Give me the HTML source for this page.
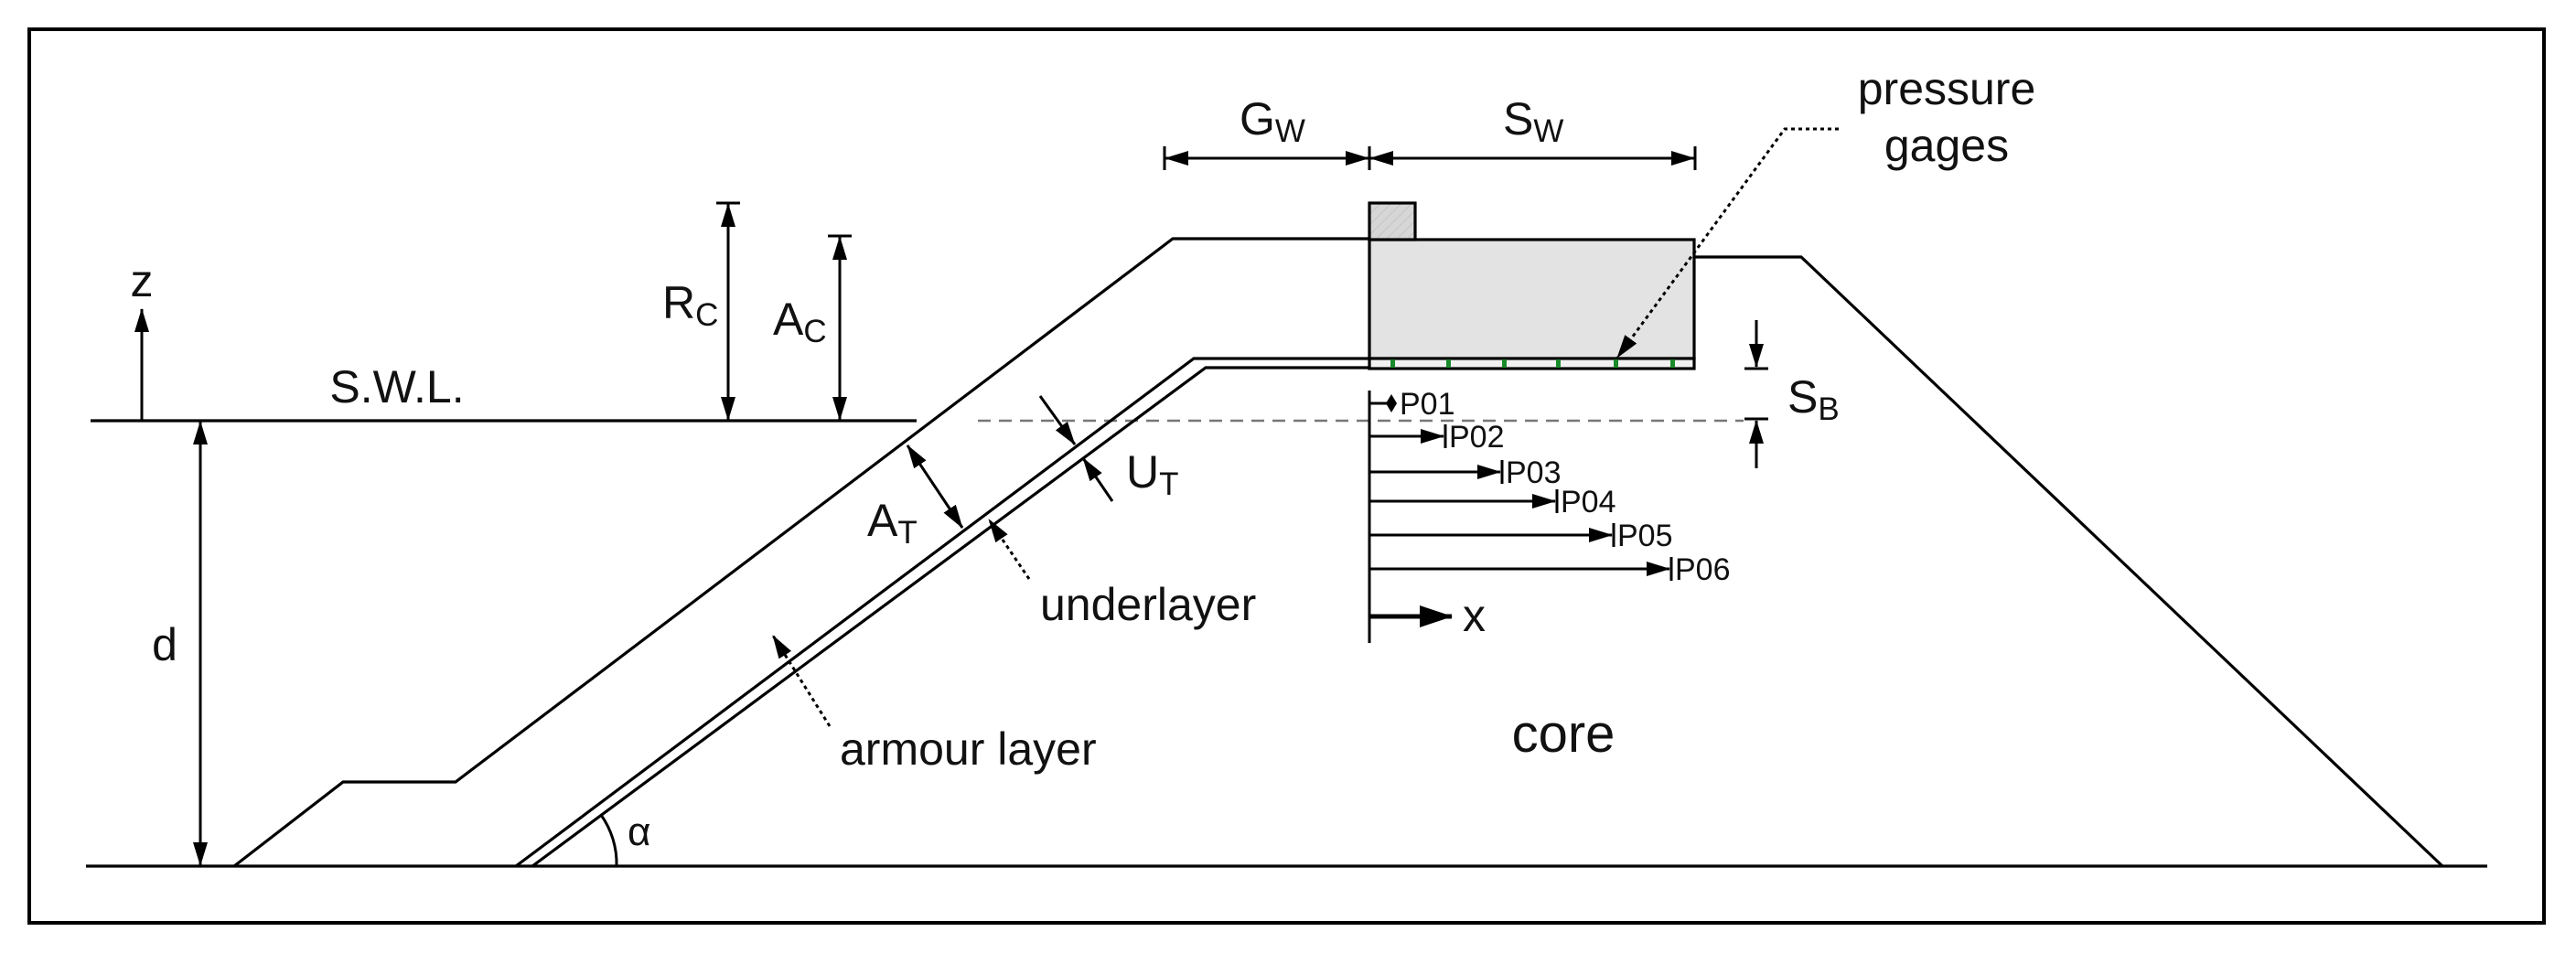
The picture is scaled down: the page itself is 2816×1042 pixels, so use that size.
<!DOCTYPE html>
<html><head><meta charset="utf-8"><style>
html,body{margin:0;padding:0;background:#fff;}
svg{display:block;}
text{font-family:"Liberation Sans",sans-serif;fill:#111;}
</style></head><body>
<svg width="2816" height="1042" viewBox="0 0 2816 1042" xmlns="http://www.w3.org/2000/svg">
<defs>
<marker id="a" markerWidth="26" markerHeight="16" refX="25" refY="8" orient="auto" markerUnits="userSpaceOnUse">
<path d="M0,0 L26,8 L0,16 Z" fill="#000"/></marker>
<marker id="as" markerWidth="26" markerHeight="16" refX="25" refY="8" orient="auto-start-reverse" markerUnits="userSpaceOnUse">
<path d="M0,0 L26,8 L0,16 Z" fill="#000"/></marker>
<marker id="ab" markerWidth="36" markerHeight="24" refX="35" refY="12" orient="auto" markerUnits="userSpaceOnUse">
<path d="M0,0 L36,12 L0,24 Z" fill="#000"/></marker>
<pattern id="h" width="8" height="8" patternUnits="userSpaceOnUse" patternTransform="rotate(45)">
<rect width="8" height="8" fill="#d6d6d6"/><line x1="0" y1="0" x2="0" y2="8" stroke="#c4c4c4" stroke-width="2"/></pattern>
</defs>
<g stroke="#000" stroke-width="3.2" fill="none">
<rect x="32" y="32" width="2749" height="977" stroke-width="4"/>
<line x1="99" y1="460" x2="1002" y2="460"/>
<line x1="94" y1="947" x2="2719" y2="947"/>
<line x1="1069" y1="460" x2="1906" y2="460" stroke="#777" stroke-width="2.5" stroke-dasharray="14 9"/>
<polyline points="256,947 375,855 498,855 1282,261 1497,261"/>
<polyline points="564,947 1305,392 1497,392"/>
<polyline points="582,947 1318,402 1497,402"/>
<polyline points="1852,281 1969,281 2670,947"/>
<rect x="1497" y="262" width="355" height="130" fill="#e3e3e3"/>
<rect x="1497" y="392" width="355" height="11" fill="#f2f2f2"/>
<rect x="1497" y="222" width="50" height="40" fill="url(#h)"/>
</g>
<g fill="#1a8a2a">
<rect x="1520" y="393" width="5" height="9"/><rect x="1581" y="393" width="5" height="9"/>
<rect x="1642" y="393" width="5" height="9"/><rect x="1701" y="393" width="5" height="9"/>
<rect x="1764" y="393" width="5" height="9"/><rect x="1826" y="393" width="5" height="9"/>
</g>
<g stroke="#000" stroke-width="3" fill="none">
<line x1="155" y1="460" x2="155" y2="338" marker-end="url(#a)"/>
<line x1="219" y1="461" x2="219" y2="946" marker-start="url(#as)" marker-end="url(#a)"/>
<line x1="783" y1="222" x2="809" y2="222"/>
<line x1="796" y1="223" x2="796" y2="459" marker-start="url(#as)" marker-end="url(#a)"/>
<line x1="905" y1="258" x2="931" y2="258"/>
<line x1="918" y1="259" x2="918" y2="459" marker-start="url(#as)" marker-end="url(#a)"/>
<line x1="992" y1="487" x2="1052" y2="577" marker-start="url(#as)" marker-end="url(#a)"/>
<line x1="1137" y1="433" x2="1175" y2="486" marker-end="url(#a)"/>
<line x1="1216" y1="548" x2="1184" y2="501" marker-end="url(#a)"/>
<line x1="1125" y1="633" x2="1081" y2="568" stroke-dasharray="4 4" marker-end="url(#a)"/>
<line x1="907" y1="794" x2="845" y2="695" stroke-dasharray="4 4" marker-end="url(#a)"/>
<polyline points="2010,141 1951,141 1768,391" stroke-dasharray="4 4" marker-end="url(#a)"/>
<path d="M 657,891 A 92 92 0 0 1 674,947"/>
<line x1="1273" y1="160" x2="1273" y2="186"/>
<line x1="1497" y1="160" x2="1497" y2="186"/>
<line x1="1853" y1="160" x2="1853" y2="186"/>
<line x1="1274" y1="173" x2="1496" y2="173" marker-start="url(#as)" marker-end="url(#a)"/>
<line x1="1498" y1="173" x2="1852" y2="173" marker-start="url(#as)" marker-end="url(#a)"/>
<line x1="1920" y1="350" x2="1920" y2="401" marker-end="url(#a)"/>
<line x1="1907" y1="403" x2="1933" y2="403"/>
<line x1="1907" y1="458" x2="1933" y2="458"/>
<line x1="1920" y1="512" x2="1920" y2="460" marker-end="url(#a)"/>
<line x1="1497" y1="427" x2="1497" y2="703"/>
<line x1="1497" y1="441" x2="1518" y2="441"/>
<line x1="1497" y1="477" x2="1578" y2="477" marker-end="url(#a)"/>
<line x1="1497" y1="516" x2="1640" y2="516" marker-end="url(#a)"/>
<line x1="1497" y1="548" x2="1700" y2="548" marker-end="url(#a)"/>
<line x1="1497" y1="585" x2="1762" y2="585" marker-end="url(#a)"/>
<line x1="1497" y1="622" x2="1825" y2="622" marker-end="url(#a)"/>
<line x1="1580" y1="464" x2="1580" y2="490"/>
<line x1="1642" y1="503" x2="1642" y2="529"/>
<line x1="1702" y1="535" x2="1702" y2="561"/>
<line x1="1764" y1="572" x2="1764" y2="598"/>
<line x1="1827" y1="609" x2="1827" y2="635"/>
<line x1="1497" y1="674" x2="1587" y2="674" stroke-width="5" marker-end="url(#ab)"/>
</g>
<path d="M1521,431 L1527,441 L1521,451 L1515,441 Z" fill="#000"/>
<g font-size="50">
<text x="155" y="324" text-anchor="middle">z</text>
<text x="434" y="440" text-anchor="middle">S.W.L.</text>
<text x="180" y="722" text-anchor="middle">d</text>
<text x="724" y="348">R<tspan font-size="35" dy="8">C</tspan></text>
<text x="845" y="366">A<tspan font-size="35" dy="8">C</tspan></text>
<text x="948" y="586">A<tspan font-size="35" dy="8">T</tspan></text>
<text x="1231" y="533">U<tspan font-size="35" dy="8">T</tspan></text>
<text x="1137" y="678">underlayer</text>
<text x="918" y="836">armour layer</text>
<text x="686" y="924" font-size="44">α</text>
<text x="1355" y="147">G<tspan font-size="35" dy="8">W</tspan></text>
<text x="1643" y="147">S<tspan font-size="35" dy="8">W</tspan></text>
<text x="2128" y="114" text-anchor="middle">pressure</text>
<text x="2128" y="176" text-anchor="middle">gages</text>
<text x="1954" y="451">S<tspan font-size="35" dy="8">B</tspan></text>
<text x="1599" y="690">x</text>
<text x="1709" y="822" text-anchor="middle" font-size="58">core</text>
</g>
<g font-size="34">
<text x="1530" y="453">P01</text>
<text x="1584" y="489">P02</text>
<text x="1646" y="528">P03</text>
<text x="1706" y="560">P04</text>
<text x="1768" y="597">P05</text>
<text x="1831" y="634">P06</text>
</g>
</svg>
</body></html>
